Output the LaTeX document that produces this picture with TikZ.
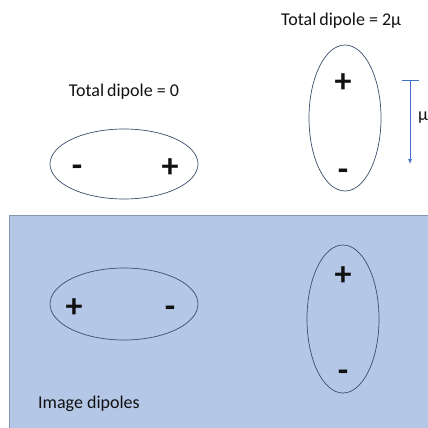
\documentclass[tikz,border=0pt]{standalone}
\usepackage{fontspec}
\setmainfont{Carlito}
\usetikzlibrary{arrows.meta,shapes.geometric}
\definecolor{ink}{HTML}{111111}
\definecolor{imagefill}{HTML}{B4C7E7}
\definecolor{imageedge}{HTML}{8497B0}
\definecolor{shelledge}{HTML}{3B4E6B}
\definecolor{arrowblue}{HTML}{4472C4}
\tikzset{
  font=\fontsize{18}{21}\selectfont,
  label/.style={text=ink,inner sep=0pt},
  shell/.style={ellipse,draw=shelledge,line width=.7pt,inner sep=0pt},
  charge/.style={text=ink,inner sep=0pt,font=\fontsize{34}{34}\selectfont\bfseries},
  moment/.style={draw=arrowblue,line width=.7pt,{Bar[width=17pt]}-{Latex[length=5pt,width=4pt]}}
}
\begin{document}
\begin{tikzpicture}[x=1pt,y=-1pt]
  \useasboundingbox (0,0) rectangle (428,428);
  % mirror half
  \node[draw=imageedge,fill=imagefill,line width=.7pt,minimum width=440pt,minimum height=230pt,anchor=north west,inner sep=0pt] (mirror) at (9,215) {};

  % real dipoles
  \node[label] (title0) at (124,92) {Total\,dipole = 0};
  \node[shell,minimum width=148pt,minimum height=70pt] (flat) at (124,164) {};
  \node[charge] (flatneg) at (77,171) {-};
  \node[charge] (flatpos) at (170,168) {+};

  \node[label,anchor=west] (title2) at (281,21) {Total\,dipole = 2μ};
  \node[shell,minimum width=72pt,minimum height=146pt] (tall) at (345,118) {};
  \node[charge] (tallpos) at (343,83) {+};
  \node[charge] (tallneg) at (343,175) {-};

  \coordinate (mutop) at (410,80);
  \coordinate (mubot) at (410,164);
  \draw[moment] (mutop) -- (mubot);
  \node[label,anchor=west] (mu) at (418,118) {μ};

  % image dipoles
  \node[shell,minimum width=148pt,minimum height=72pt] (imflat) at (124,304) {};
  \node[charge] (imflatpos) at (74,308) {+};
  \node[charge] (imflatneg) at (170,312) {-};

  \node[shell,minimum width=72pt,minimum height=148pt] (imtall) at (343,319) {};
  \node[charge] (imtallpos) at (343,276) {+};
  \node[charge] (imtallneg) at (343,376) {-};

  \node[label,anchor=west] (caption) at (38,404) {Image dipoles};
\end{tikzpicture}
\end{document}
